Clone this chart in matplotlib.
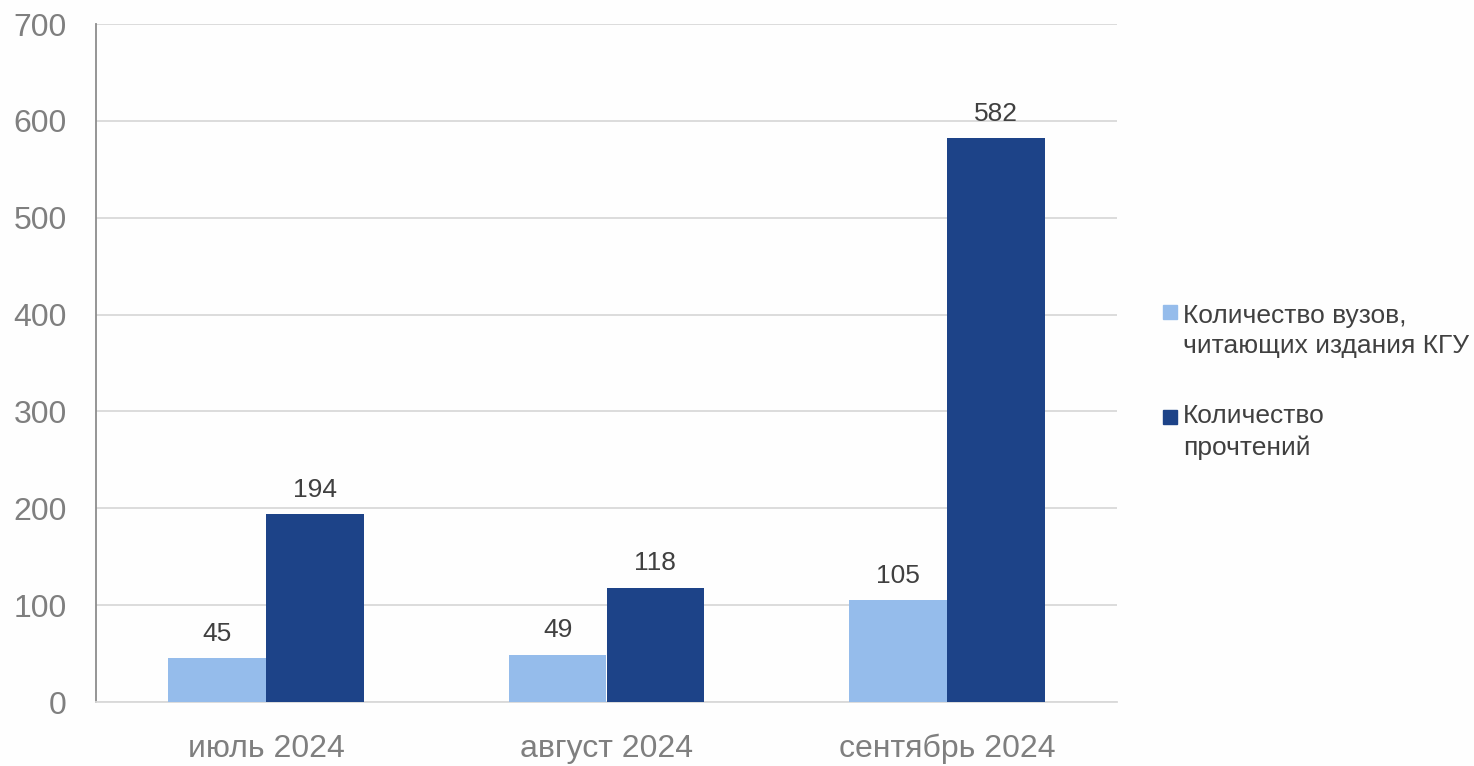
import matplotlib
matplotlib.use("Agg")
import matplotlib.pyplot as plt
from matplotlib.patches import Rectangle
import numpy as np

categories = ["июль 2024", "август 2024", "сентябрь 2024"]
series_names = [["Количество вузов,", "читающих издания КГУ"], ["Количество", "прочтений"]]
universities = [45, 49, 105]
reads = [194, 118, 582]
yticks = [0, 100, 200, 300, 400, 500, 600, 700]

plt.rcParams['font.family'] = ['Liberation Sans', 'DejaVu Sans']

W, H = 1474, 766
fig = plt.figure(figsize=(W/100, H/100), dpi=100)
fig.patch.set_facecolor('#fefefe')
ax = fig.add_axes([96/W, 1-702/H, (1117-96)/W, (702-24)/H])
ax.set_facecolor('#fefefe')

x = np.arange(len(categories))
w = 0.287
c1, c2 = '#95bceb', '#1d4388'
b1 = ax.bar(x - w/2, universities, w, color=c1, zorder=3)
b2 = ax.bar(x + w/2, reads, w, color=c2, zorder=3)

for bars in (b1, b2):
    for r in bars:
        ax.annotate(f"{int(r.get_height())}", (r.get_x() + r.get_width()/2, r.get_height()),
                    xytext=(0, 9), textcoords='offset points', ha='center', va='bottom',
                    fontsize=19, color='#404040')

ax.set_xlim(-0.5, 2.5)
ax.set_ylim(0, 700)
ax.set_yticks(yticks)
ax.set_yticklabels([str(t) for t in yticks])
ax.set_xticks(x)
ax.set_xticklabels(categories)
ax.tick_params(axis='y', length=0, pad=21, labelsize=23, labelcolor='#7f7f7f')
ax.tick_params(axis='x', length=0, pad=23, labelsize=23, labelcolor='#7f7f7f')
ax.grid(axis='y', color='#d9d9d9', linewidth=1.3, zorder=0)
for s in ['top', 'right']:
    ax.spines[s].set_visible(False)
ax.spines['left'].set_color('#8c8c8c')
ax.spines['left'].set_linewidth(1.3)
ax.spines['bottom'].set_color('#d9d9d9')
ax.spines['bottom'].set_linewidth(1.3)

# legend drawn manually (marker aligned with first text line)
legend_rows = [(c1, 305, [323, 353]), (c2, 410, [423, 455])]
for (col, sq_top, baselines), lines in zip(legend_rows, series_names):
    fig.patches.append(Rectangle((1163/W, 1-(sq_top+14)/H), 14/W, 14/H,
                                 transform=fig.transFigure, color=col, figure=fig))
    for bl, txt in zip(baselines, lines):
        fig.text(1183/W, 1-bl/H, txt, fontsize=19, color='#404040', ha='left', va='baseline')

fig.savefig("out.png", dpi=100, facecolor=fig.get_facecolor())
